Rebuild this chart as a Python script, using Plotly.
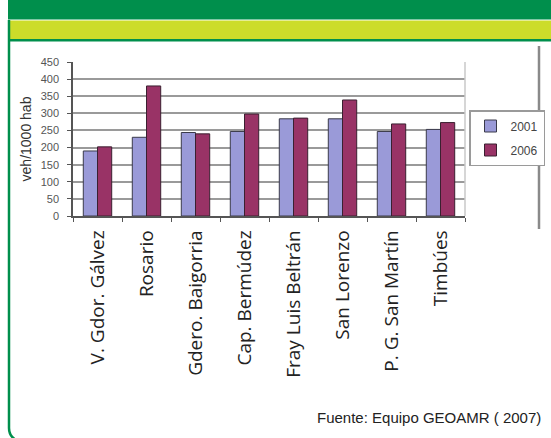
import plotly.graph_objects as go

categories = ["V. Gdor. Gálvez", "Rosario", "Gdero. Baigorria", "Cap. Bermúdez",
              "Fray Luis Beltrán", "San Lorenzo", "P. G. San Martín", "Timbúes"]
values_2001 = [190, 230, 244, 247, 284, 284, 247, 253]
values_2006 = [202, 380, 240, 298, 286, 339, 269, 273]
y_ticks = [0, 50, 100, 150, 200, 250, 300, 350, 400, 450]

W, H = 551, 438
L, R, T, B = 73, 465, 62, 216  # plot area in pixels


def px(x):
    return (x - L) / (R - L)


def py(y):
    return (B - y) / (B - T)


fig = go.Figure()
fig.add_trace(go.Bar(name="2001", x=categories, y=values_2001, legendgroup="a",
                     marker=dict(color="#9A9AD8", line=dict(color="#3a3a4a", width=1))))
fig.add_trace(go.Bar(name="2006", x=categories, y=values_2006, legendgroup="b",
                     marker=dict(color="#993366", line=dict(color="#3a2030", width=1))))

shapes = [
    # dark green header
    dict(type="rect", xref="paper", yref="paper", x0=px(8), x1=px(W + 5), y0=py(19.5), y1=py(-5),
         fillcolor="#008F4C", line=dict(width=0), layer="below"),
    # yellow band
    dict(type="rect", xref="paper", yref="paper", x0=px(10), x1=px(W + 5), y0=py(39), y1=py(20.5),
         fillcolor="#CCDC2A", line=dict(width=0), layer="below"),
    # green line under yellow band
    dict(type="rect", xref="paper", yref="paper", x0=px(8), x1=px(W + 5), y0=py(41.5), y1=py(39),
         fillcolor="#008F4C", line=dict(width=0), layer="below"),
    # left green border with rounded bottom corner
    dict(type="path", xref="paper", yref="paper",
         path=f"M {px(9)} {py(20)} L {px(9)} {py(428)} Q {px(9)} {py(436)} {px(16)} {py(440)}",
         line=dict(color="#008F4C", width=2.5)),
    # right grey vertical rule
    dict(type="line", xref="paper", yref="paper", x0=px(539), x1=px(539), y0=py(46), y1=py(229),
         line=dict(color="#8a8a8a", width=2.5)),
    # plot area right border
    dict(type="line", xref="paper", yref="paper", x0=1, x1=1, y0=0, y1=1,
         line=dict(color="#c8c8c8", width=1.5)),
]

fig.update_layout(
    width=W, height=H,
    margin=dict(l=L, r=W - R, t=T, b=H - B, pad=0, autoexpand=False),
    paper_bgcolor="white", plot_bgcolor="white",
    barmode="group", bargap=0.42, bargroupgap=0,
    showlegend=True,
    legend=dict(x=px(469), y=py(110), xanchor="left", yanchor="top",
                bordercolor="#9a9a9a", borderwidth=1.5, bgcolor="white",
                font=dict(family="Arial", size=12, color="#444"),
                itemwidth=30, tracegroupgap=5),
    shapes=shapes,
    annotations=[
        dict(text="Fuente: Equipo GEOAMR ( 2007)", xref="paper", yref="paper",
             x=px(543), y=py(417), xanchor="right", yanchor="middle", showarrow=False,
             font=dict(family="Arial", size=15, color="#222")),
    ],
    xaxis=dict(
        type="category", tickangle=-90, tickson="boundaries", ticks="outside", ticklen=4,
        tickcolor="#555", showline=True, linecolor="#555", linewidth=1.5,
        tickfont=dict(family="Open Sans", size=19, color="#222"), showgrid=False,
        ticklabelstandoff=5, automargin=False,
    ),
    yaxis=dict(
        range=[0, 450], tickvals=y_ticks, ticks="outside", ticklen=4, tickcolor="#555",
        showline=True, linecolor="#555", linewidth=1.5,
        gridcolor="#9a9a9a", gridwidth=2, automargin=False,
        tickfont=dict(family="Arial", size=11, color="#555"),
        ticklabelstandoff=6,
        title=dict(text="veh/1000 hab", font=dict(family="Arial", size=14, color="#333"),
                   standoff=6),
    ),
)

fig.write_html("out.html", config={"displayModeBar": False},
               post_script="document.body.style.margin='0';document.body.style.overflow='hidden';")
